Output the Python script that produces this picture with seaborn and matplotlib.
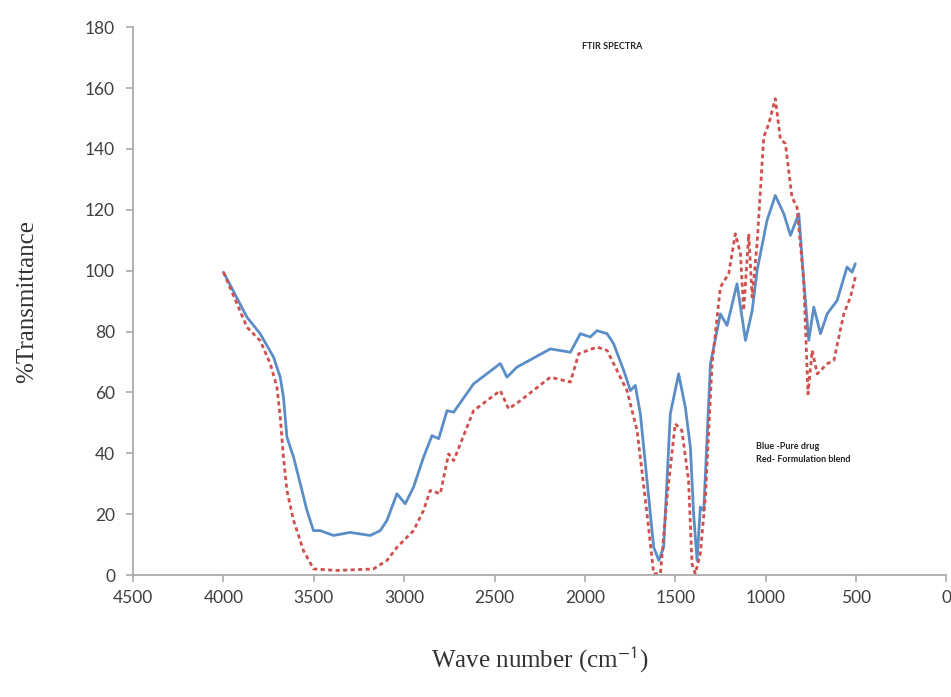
import matplotlib
matplotlib.use("Agg")
import matplotlib.pyplot as plt
import seaborn as sns
import pandas as pd

# Pure drug (blue)
blue_wn = [4000, 3870, 3797, 3723, 3686, 3668, 3649, 3612, 3575, 3538, 3502, 3465, 3391, 3299,
           3188, 3132, 3095, 3040, 2994, 2948, 2893, 2846, 2809, 2763, 2726, 2616, 2468, 2431,
           2376, 2191, 2080, 2025, 1970, 1933, 1877, 1841, 1785, 1748, 1721, 1693, 1656, 1619,
           1591, 1564, 1527, 1481, 1444, 1416, 1398, 1379, 1361, 1342, 1305, 1250, 1213, 1158,
           1111, 1074, 1047, 992, 946, 899, 862, 816, 789, 761, 733, 696, 659, 604, 549, 521, 503]
blue_t = [99.5, 84.7, 79.3, 71.6, 65.0, 58.4, 45.3, 38.7, 30.0, 21.2, 14.6, 14.6, 13.0, 14.0,
          13.0, 14.6, 18.0, 26.7, 23.4, 28.9, 38.7, 45.8, 44.8, 54.0, 53.5, 62.8, 69.5, 65.0,
          68.3, 74.3, 73.2, 79.3, 78.2, 80.3, 79.3, 76.0, 67.2, 60.6, 62.3, 53.0, 31.0, 9.1,
          4.8, 9.1, 53.0, 66.1, 55.1, 42.0, 20.0, 4.8, 22.3, 21.2, 69.4, 85.8, 82.0, 95.7,
          77.1, 86.9, 100.0, 116.5, 124.7, 118.7, 111.6, 118.7, 96.8, 77.1, 88.0, 79.3, 85.8,
          90.2, 101.2, 99.5, 102.3]

# Formulation blend (red)
red_wn = [4000, 3870, 3797, 3741, 3704, 3686, 3668, 3649, 3612, 3557, 3502, 3373, 3170, 3095,
          3040, 2948, 2893, 2856, 2800, 2754, 2726, 2616, 2468, 2422, 2357, 2191, 2080, 2034,
          1933, 1877, 1822, 1767, 1711, 1656, 1619, 1582, 1545, 1500, 1463, 1426, 1407, 1389,
          1361, 1333, 1296, 1250, 1204, 1167, 1139, 1121, 1093, 1074, 1047, 1010, 982, 946,
          918, 890, 854, 826, 789, 765, 742, 714, 659, 622, 567, 530, 503]
red_t = [99.5, 81.4, 77.0, 69.4, 61.7, 51.9, 38.7, 27.8, 17.9, 8.0, 2.0, 1.5, 2.0, 4.8,
         9.1, 14.6, 21.2, 27.8, 26.7, 39.8, 37.6, 54.0, 60.6, 54.6, 57.3, 65.0, 63.4, 72.7,
         74.9, 73.8, 67.2, 60.6, 47.5, 20.1, 0.4, 0.4, 25.6, 49.7, 47.5, 31.0, 3.7, 0.4,
         7.0, 25.6, 69.4, 94.6, 99.0, 112.1, 105.6, 86.9, 112.1, 91.3, 108.8, 143.9, 148.3, 156.5,
         143.3, 141.7, 124.2, 120.9, 96.8, 59.5, 73.8, 66.1, 69.4, 70.5, 85.8, 91.3, 97.9]

x_ticks = [4500, 4000, 3500, 3000, 2500, 2000, 1500, 1000, 500, 0]
y_ticks = [0, 20, 40, 60, 80, 100, 120, 140, 160, 180]

blue_df = pd.DataFrame({"wn": blue_wn, "t": blue_t})
red_df = pd.DataFrame({"wn": red_wn, "t": red_t})

sns.set_style("white")
plt.rcParams["font.family"] = ["Lato", "DejaVu Sans"]
plt.rcParams["mathtext.fontset"] = "stix"

fig = plt.figure(figsize=(9.51, 6.97), dpi=100)
ax = fig.add_axes([0.14, 0.175, 0.855, 0.786])

sns.lineplot(data=blue_df, x="wn", y="t", ax=ax, color="#5B8EC6", linewidth=2.0,
             sort=False, estimator=None)
sns.lineplot(data=red_df, x="wn", y="t", ax=ax, color="#D0504D", linewidth=2.0,
             sort=False, estimator=None, linestyle=(0, (1.5, 1.2)))

ax.set_xlim(4500, 0)
ax.set_ylim(0, 180)
ax.set_xticks(x_ticks)
ax.set_yticks(y_ticks)
ax.tick_params(axis="both", bottom=True, left=True, labelsize=12.5, colors="#AAAAAA",
               length=5, width=1.2, direction="out", labelcolor="#404040")
ax.tick_params(axis="x", pad=6)
ax.tick_params(axis="y", pad=8)

for s in ["top", "right"]:
    ax.spines[s].set_visible(False)
for s in ["left", "bottom"]:
    ax.spines[s].set_color("#AAAAAA")
    ax.spines[s].set_linewidth(1.3)

ax.set_xlabel(r"Wave number (cm$^{\mathsf{-1}}$)", family="Liberation Serif",
              fontsize=18, color="#333333", labelpad=28)
ax.set_ylabel("%Transmittance", family="Liberation Serif", fontsize=18,
              color="#333333", labelpad=34)

ax.text(1850, 173.5, "FTIR SPECTRA", fontsize=6.5, fontweight="bold",
        ha="center", va="center", color="#222222")
ax.text(1055, 40, "Blue -Pure drug\nRed- Formulation blend", fontsize=6.5,
        fontweight="bold", ha="left", va="center", color="#222222", linespacing=1.6)

fig.savefig("out.png", dpi=100)
